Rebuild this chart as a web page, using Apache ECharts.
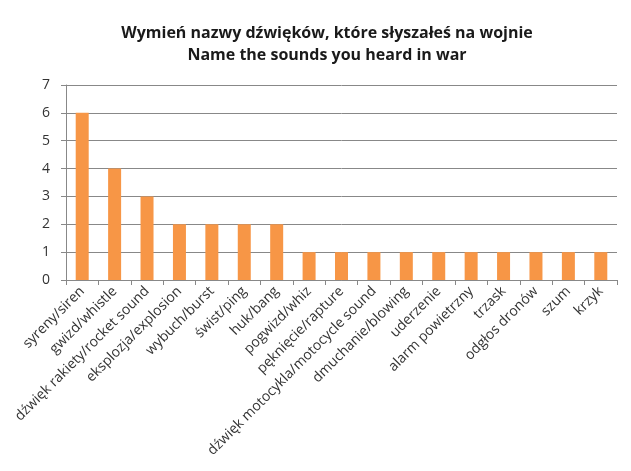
<!DOCTYPE html>
<html>
<head>
    <meta charset="utf-8" />
    <title>Wymień nazwy dźwięków</title>
    <script src="https://cdn.jsdelivr.net/npm/echarts@6/dist/echarts.min.js"></script>
    <style>
        html, body { margin: 0; padding: 0; background: #fff; }
        #chart { width: 631px; height: 471px; }
    </style>
</head>
<body>
    <div id="chart"></div>
    <script type="text/javascript">
        var categories = ['syreny/siren', 'gwizd/whistle', 'dźwięk rakiety/rocket sound', 'eksplozja/explosion',
            'wybuch/burst', 'świst/ping', 'huk/bang', 'pogwizd/whiz', 'pęknięcie/rapture',
            'dźwięk motocykla/motocycle sound', 'dmuchanie/blowing', 'uderzenie', 'alarm powietrzny',
            'trzask', 'odgłos dronów', 'szum', 'krzyk'];
        var counts = [6, 4, 3, 2, 2, 2, 2, 1, 1, 1, 1, 1, 1, 1, 1, 1, 1];
        var yTicks = [0, 1, 2, 3, 4, 5, 6, 7];

        var font = 'Open Sans';
        var chart = echarts.init(document.getElementById('chart'));
        chart.setOption({
            animation: false,
            title: {
                text: 'Wymień nazwy dźwięków, które słyszałeś na wojnie\nName the sounds you heard in war',
                left: 322,
                top: 17,
                textAlign: 'center',
                textStyle: {
                    fontFamily: font,
                    fontSize: 16,
                    fontWeight: 'bold',
                    color: '#1a1a1a',
                    lineHeight: 22
                }
            },
            grid: {
                left: 66,
                right: 14,
                top: 85,
                bottom: 191,
                containLabel: false
            },
            xAxis: {
                type: 'category',
                data: categories,
                axisLine: { lineStyle: { color: '#888' } },
                axisTick: { show: true, alignWithLabel: false, length: 5, lineStyle: { color: '#888' } },
                axisLabel: {
                    rotate: 45,
                    interval: 0,
                    margin: 9,
                    fontFamily: font,
                    fontSize: 14,
                    color: '#333'
                }
            },
            yAxis: {
                type: 'value',
                min: yTicks[0],
                max: yTicks[yTicks.length - 1],
                interval: 1,
                axisLine: { show: true, lineStyle: { color: '#888' } },
                axisTick: { show: true, length: 5, lineStyle: { color: '#888' } },
                splitLine: { lineStyle: { color: '#888' } },
                axisLabel: {
                    fontFamily: font,
                    fontSize: 14,
                    color: '#333',
                    margin: 16
                }
            },
            series: [{
                type: 'bar',
                data: counts,
                barWidth: 13,
                itemStyle: { color: '#F79646' }
            }]
        });
    </script>
</body>
</html>
